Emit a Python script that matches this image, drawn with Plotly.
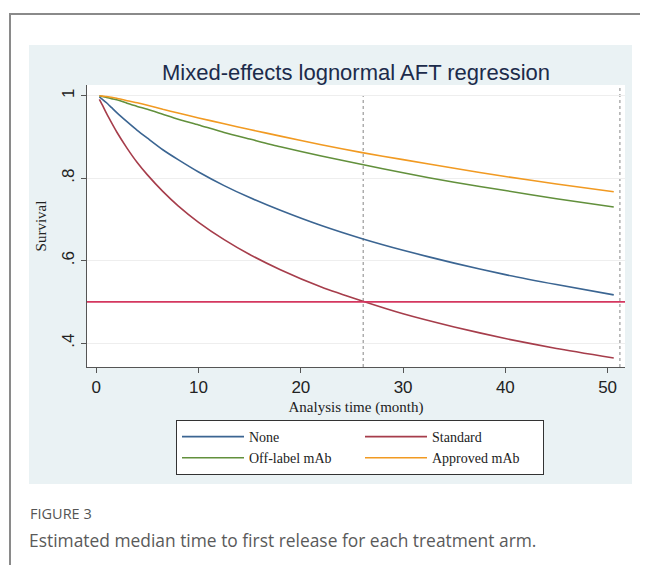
import plotly.graph_objects as go

# ---- data ----
months = [0.3, 0.6, 1, 1.5, 2, 3, 4, 5, 6.5, 8, 10, 12.5, 15, 18, 22, 26, 30, 35, 40, 45, 50.6]
surv_none = [0.997, 0.991, 0.983, 0.971, 0.959, 0.937, 0.916, 0.897, 0.869, 0.845, 0.815, 0.782,
             0.753, 0.722, 0.685, 0.653, 0.625, 0.594, 0.566, 0.542, 0.517]
surv_standard = [0.991, 0.977, 0.957, 0.934, 0.912, 0.873, 0.838, 0.808, 0.768, 0.733, 0.693, 0.651,
                 0.615, 0.578, 0.536, 0.502, 0.471, 0.439, 0.411, 0.387, 0.364]
surv_offlabel = [1.000, 0.998, 0.996, 0.993, 0.990, 0.982, 0.974, 0.967, 0.955, 0.943, 0.929, 0.911,
                 0.895, 0.876, 0.854, 0.833, 0.813, 0.790, 0.770, 0.750, 0.730]
surv_approved = [1.000, 0.999, 0.998, 0.996, 0.994, 0.988, 0.983, 0.977, 0.967, 0.958, 0.946, 0.932,
                 0.918, 0.902, 0.881, 0.862, 0.845, 0.824, 0.804, 0.786, 0.767]
series_names = ["None", "Standard", "Off-label mAb", "Approved mAb"]
series_colors = ["#3b6592", "#a63d4b", "#62903c", "#f19a22"]
median_survival = 0.5
median_time = 26.1
followup_end = 51.2
x_ticks = [0, 10, 20, 30, 40, 50]
y_ticks = [0.4, 0.6, 0.8, 1.0]
y_ticktext = [".4", ".6", ".8", "1"]

W, H = 648, 565
OFF = 8                      # page body margin
PL, PR, PT, PB = 87, 625, 85, 367   # plot area in page pixels
pw, ph = PR - PL, PB - PT
L, R, T, B = PL - OFF, W - (PR - OFF), PT - OFF, H - (PB - OFF)


def px(x):
    return (x - PL) / pw


def py(y):
    return (PB - y) / ph


fig = go.Figure()
for name, vals, col in zip(series_names,
                           [surv_none, surv_standard, surv_offlabel, surv_approved],
                           series_colors):
    fig.add_trace(go.Scatter(x=months, y=vals, mode="lines", name=name,
                             line=dict(color=col, width=1.6, shape="spline", smoothing=0.6)))

shapes = [
    # outer frame
    dict(type="rect", xref="paper", yref="paper", x0=px(10), x1=px(700), y0=py(620), y1=py(14),
         line=dict(color="#8a8a8a", width=2), fillcolor="white", layer="below"),
    # light panel
    dict(type="rect", xref="paper", yref="paper", x0=px(29), x1=px(632), y0=py(484), y1=py(45),
         line=dict(width=0), fillcolor="#eaf2f4", layer="below"),
    # white plot region
    dict(type="rect", xref="paper", yref="paper", x0=0, x1=1, y0=0, y1=1,
         line=dict(width=0), fillcolor="white", layer="below"),
    # median time & end of follow-up
    dict(type="line", xref="x", yref="y", x0=median_time, x1=median_time, y0=0.342, y1=1.0,
         line=dict(color="#9a9a9a", width=1.2, dash="dot"), layer="below"),
    dict(type="line", xref="x", yref="paper", x0=followup_end, x1=followup_end, y0=0, y1=1,
         line=dict(color="#9a9a9a", width=1.2, dash="dot"), layer="below"),
    # median survival line
    dict(type="line", xref="paper", yref="y", x0=0, x1=1, y0=median_survival, y1=median_survival,
         line=dict(color="#d4375f", width=1.6), layer="above"),
]

annotations = [
    dict(text="FIGURE 3", xref="paper", yref="paper", x=px(28), y=py(513), xanchor="left",
         yanchor="middle", showarrow=False, font=dict(family="Open Sans", size=14.5, color="#555555")),
    dict(text="Estimated median time to first release for each treatment arm.", xref="paper",
         yref="paper", x=px(27), y=py(540), xanchor="left", yanchor="middle", showarrow=False,
         font=dict(family="Open Sans", size=17.4, color="#5a5a5a")),
]

fig.update_layout(
    width=W, height=H,
    margin=dict(l=L, r=R, t=T, b=B, autoexpand=False),
    paper_bgcolor="white", plot_bgcolor="white",
    shapes=shapes, annotations=annotations,
    title=dict(text="Mixed-effects lognormal AFT regression", x=0.5, xref="paper",
               y=1 - (72 - OFF) / H, yref="container", xanchor="center", yanchor="middle",
               font=dict(family="Liberation Sans", size=22, color="#1c2b4b")),
    xaxis=dict(range=[-0.91, 51.7], tickvals=x_ticks, showgrid=False, zeroline=False,
               showline=True, linecolor="#555555", linewidth=1, ticks="outside", ticklen=5,
               tickcolor="#555555",
               tickfont=dict(family="Liberation Sans", size=17, color="#222222"),
               title=dict(text="Analysis time (month)", standoff=5,
                          font=dict(family="Liberation Serif", size=15, color="#222222"))),
    yaxis=dict(range=[0.342, 1.026], tickvals=y_ticks, ticktext=y_ticktext, tickangle=-90,
               showgrid=True, gridcolor="#eeeeee", gridwidth=1, zeroline=False,
               showline=True, linecolor="#555555", linewidth=1, ticks="outside", ticklen=5,
               tickcolor="#555555",
               tickfont=dict(family="Liberation Sans", size=17, color="#222222"),
               title=dict(text="Survival", standoff=8,
                          font=dict(family="Liberation Serif", size=15, color="#222222"))),
    showlegend=True,
    legend=dict(orientation="h", x=px(176), y=py(420), xanchor="left", yanchor="top",
                entrywidth=106, entrywidthmode="pixels", itemwidth=62,
                bordercolor="#333333", borderwidth=1, bgcolor="white",
                font=dict(family="Liberation Serif", size=14, color="#222222"),
                traceorder="normal"),
)

fig.write_html("out.html")
